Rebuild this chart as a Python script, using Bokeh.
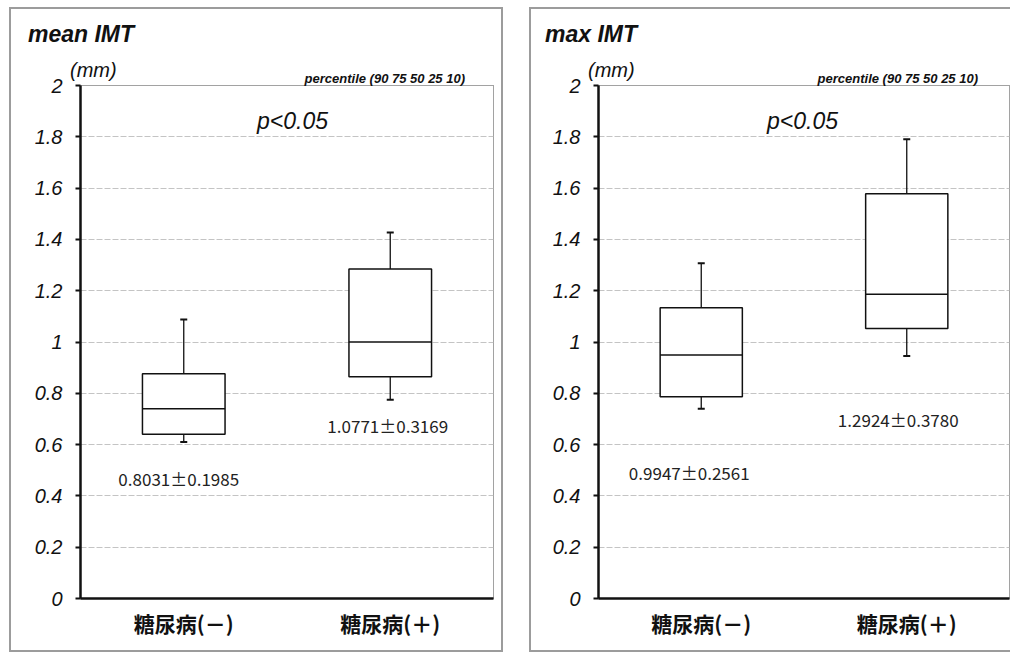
from bokeh.plotting import figure
from bokeh.models import (ColumnDataSource, FactorRange, Range1d, FixedTicker, Whisker,
                          TeeHead, Label, Spacer, Div)
from bokeh.layouts import row, column
from bokeh.transform import dodge
from bokeh.core.properties import value
from bokeh.embed import file_html
from bokeh.resources import INLINE

# ---------------- data ----------------
categories = ["糖尿病(－)", "糖尿病(＋)"]

mean_p10 = [0.61, 0.775]
mean_q25 = [0.64, 0.865]
mean_med = [0.74, 1.00]
mean_q75 = [0.876, 1.285]
mean_p90 = [1.088, 1.427]
mean_stats = ["0.8031±0.1985", "1.0771±0.3169"]

max_p10 = [0.74, 0.945]
max_q25 = [0.787, 1.053]
max_med = [0.949, 1.186]
max_q75 = [1.134, 1.578]
max_p90 = [1.307, 1.79]
max_stats = ["0.9947±0.2561", "1.2924±0.3780"]

y_ticks = [0, 0.2, 0.4, 0.6, 0.8, 1, 1.2, 1.4, 1.6, 1.8, 2]
y_tick_labels = ["0", "0.2", "0.4", "0.6", "0.8", "1", "1.2", "1.4", "1.6", "1.8", "2"]

unit_text = "(mm)"
pct_text = "percentile (90 75 50 25 10)"
p_text = "p<0.05"

LAT = "Liberation Sans"
CJK = "Noto Sans CJK JP"
INK = "#111111"
PANEL_BORDER = "2px solid #9c9c9c"
HDR_H = 62


def header(title, width, title_x, mm_x, pct_right):
    html = (
        f'<div style="position:relative;width:{width}px;height:{HDR_H}px;overflow:visible;'
        f'font-family:\'{LAT}\';color:{INK};">'
        f'<span style="position:absolute;left:{title_x}px;top:14px;font-size:23px;'
        f'line-height:23px;font-weight:bold;font-style:italic;white-space:nowrap;">{title}</span>'
        f'<span style="position:absolute;left:{mm_x}px;top:51px;font-size:20px;'
        f'line-height:20px;font-style:italic;white-space:nowrap;">{unit_text}</span>'
        f'<span style="position:absolute;right:{pct_right}px;top:63px;font-size:13px;'
        f'line-height:13px;font-weight:bold;font-style:italic;white-space:nowrap;">{pct_text}</span>'
        '</div>'
    )
    return Div(text=html, width=width, height=HDR_H, margin=0,
               styles={"overflow": "visible", "z-index": "2"})


def make_panel(title, p10, q25, med, q75, p90, stats, width, b_left, b_right,
               label_y, label_dx, title_x, mm_x, pct_right, p_x, styles):
    src = ColumnDataSource(dict(cats=categories, p10=p10, q25=q25, med=med, q75=q75,
                                p90=p90, stats=stats, ly=label_y, ldx=label_dx))
    p = figure(x_range=FactorRange(*categories), y_range=Range1d(0, 2),
               width=width, height=579, output_backend="svg", toolbar_location=None,
               min_border_left=b_left, min_border_right=b_right,
               min_border_top=14, min_border_bottom=52, margin=0)
    p.background_fill_color = "white"
    p.border_fill_alpha = 0
    p.outline_line_color = "#444444"
    p.outline_line_dash = "1 1"
    p.outline_line_width = 1

    p.xgrid.grid_line_color = None
    p.ygrid.grid_line_color = "#c4c4c4"
    p.ygrid.grid_line_dash = "6 2"
    p.ygrid.grid_line_width = 1

    p.yaxis.ticker = FixedTicker(ticks=y_ticks)
    p.yaxis.major_label_overrides = dict(zip(y_ticks, y_tick_labels))
    p.yaxis.axis_line_width = 2.5
    p.yaxis.axis_line_color = INK
    p.yaxis.major_tick_line_width = 2
    p.yaxis.major_tick_line_color = INK
    p.yaxis.major_tick_out = 5
    p.yaxis.major_tick_in = 0
    p.yaxis.minor_tick_line_color = None
    p.yaxis.major_label_text_font = LAT
    p.yaxis.major_label_text_font_style = "italic"
    p.yaxis.major_label_text_font_size = "20px"
    p.yaxis.major_label_text_color = INK
    p.yaxis.major_label_standoff = 13

    p.xaxis.axis_line_width = 2.5
    p.xaxis.axis_line_color = INK
    p.xaxis.major_tick_line_color = None
    p.xaxis.minor_tick_line_color = None
    p.xaxis.major_label_text_font = CJK
    p.xaxis.major_label_text_font_style = "bold"
    p.xaxis.major_label_text_font_size = "21px"
    p.xaxis.major_label_text_color = INK
    p.xaxis.major_label_standoff = 3

    # whiskers (90th and 10th percentiles)
    p.add_layout(Whisker(source=src, base="cats", upper="p90", lower="q75",
                         line_color=INK, line_width=1.3,
                         upper_head=TeeHead(size=7, line_color=INK, line_width=2),
                         lower_head=None))
    p.add_layout(Whisker(source=src, base="cats", upper="q25", lower="p10",
                         line_color=INK, line_width=1.3,
                         lower_head=TeeHead(size=7, line_color=INK, line_width=2),
                         upper_head=None))
    # boxes (25th-75th) and median
    p.vbar(x="cats", top="q75", bottom="q25", width=0.4, fill_color="white",
           line_color=INK, line_width=1.5, source=src)
    p.segment(x0=dodge("cats", -0.2, range=p.x_range), x1=dodge("cats", 0.2, range=p.x_range),
              y0="med", y1="med", line_color=INK, line_width=1.5, source=src)
    # mean ± SD text
    p.text(x="cats", y="ly", x_offset="ldx", text="stats", source=src,
           text_align="center", text_baseline="middle", text_font_size="17px",
           text_color="#222222", text_font=value(CJK))

    p.add_layout(Label(x=p_x, y=478, x_units="screen", y_units="screen", text=p_text,
                       text_align="center", text_font=LAT, text_font_style="italic",
                       text_font_size="23px", text_color=INK,
                       text_baseline="alphabetic"))

    hdr = header(title, width, title_x, mm_x, pct_right)
    return column(hdr, p, spacing=0, margin=0, styles=styles)


left_styles = {"border": PANEL_BORDER, "background-color": "white"}
right_styles = {"border-left": PANEL_BORDER, "border-top": PANEL_BORDER,
                "border-bottom": PANEL_BORDER, "background-color": "white"}

panel1 = make_panel("mean IMT", mean_p10, mean_q25, mean_med, mean_q75, mean_p90, mean_stats,
                    490, 69, 8, [0.468, 0.674], [-5, -2.5], 17, 59, 36, 212, left_styles)
panel2 = make_panel("max IMT", max_p10, max_q25, max_med, max_q75, max_p90, max_stats,
                    479, 67, 1, [0.49, 0.699], [-12, -8.5], 14, 57, 32, 204, right_styles)

layout = column(Spacer(height=7, margin=0),
                row(Spacer(width=9, margin=0), panel1, Spacer(width=26, margin=0), panel2,
                    spacing=0, margin=0),
                spacing=0, margin=0)
open("out.html", "w").write(file_html(layout, INLINE))
